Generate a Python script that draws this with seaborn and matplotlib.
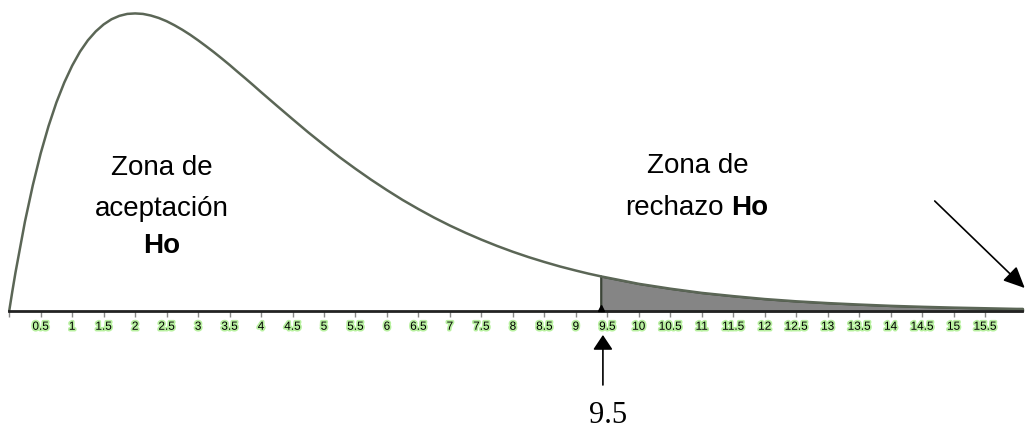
import matplotlib
matplotlib.use('Agg')
import matplotlib.pyplot as plt
import matplotlib.patheffects as pe
from matplotlib import font_manager
import seaborn as sns

# density curve (chi-square, 4 d.f.)
curve_x = [0, 0.05, 0.1, 0.25, 0.375, 0.5, 0.625, 0.75, 0.875, 1, 1.125, 1.25, 1.375, 1.5, 1.625,
           1.75, 1.875, 2, 2.125, 2.25, 2.375, 2.5, 2.625, 2.75, 2.875, 3, 3.125, 3.25, 3.375,
           3.5, 3.625, 3.75, 3.875, 4, 4.25, 4.5, 4.75, 5, 5.25, 5.5, 5.75, 6, 6.25, 6.5, 6.75,
           7, 7.25, 7.5, 7.75, 8, 8.25, 8.5, 8.75, 9, 9.2, 9.4, 10, 10.5, 11, 11.5, 12, 12.5,
           13, 13.5, 14, 14.5, 15, 15.5, 16, 16.1]
curve_y = [0, 0.0122, 0.0238, 0.0552, 0.0777, 0.0974, 0.1143, 0.1289, 0.1412, 0.1516, 0.1603,
           0.1673, 0.1728, 0.1771, 0.1803, 0.1824, 0.1836, 0.1839, 0.1836, 0.1826, 0.1811,
           0.1791, 0.1766, 0.1738, 0.1707, 0.1673, 0.1637, 0.1600, 0.1561, 0.1521, 0.1479,
           0.1438, 0.1396, 0.1353, 0.1269, 0.1186, 0.1104, 0.1026, 0.0950, 0.0879, 0.0811,
           0.0747, 0.0686, 0.0630, 0.0577, 0.0528, 0.0483, 0.0441, 0.0402, 0.0366, 0.0333,
           0.0303, 0.0275, 0.0250, 0.0231, 0.0214, 0.0168, 0.0138, 0.0112, 0.0092, 0.0074,
           0.0060, 0.0049, 0.0040, 0.0032, 0.0026, 0.0021, 0.0017, 0.0013, 0.0013]
critical = 9.4
critical_label = '9.5'
tick_pos = [i * 0.5 for i in range(0, 32)]
tick_labels = [''] + ['%g' % t for t in tick_pos[1:]]

sns.set_theme(style='white', rc={'text.color': 'black'})
plt.rcParams['font.family'] = ['Liberation Sans', 'DejaVu Sans']
names = {f.name for f in font_manager.fontManager.ttflist}
tick_font = 'Liberation Sans Narrow' if 'Liberation Sans Narrow' in names else 'Liberation Sans'

fig = plt.figure(figsize=(10.25, 4.34), dpi=100)
ax = fig.add_axes([0, 0, 1, 1])

# rejection zone
tail_x = [x for x in curve_x if x >= critical]
tail_y = [y for x, y in zip(curve_x, curve_y) if x >= critical]
ax.fill_between(tail_x, 0, tail_y, color='#858585', edgecolor='#3c4538', linewidth=1.2, zorder=2)
ax.plot([critical, critical], [0, tail_y[0]], color='#3c4538', linewidth=1.2, zorder=3)

sns.lineplot(x=curve_x, y=curve_y, ax=ax, color='#5b6656', linewidth=1.8, zorder=4)

ax.set_xlim(-0.146, 16.134)
ax.set_ylim(-0.076, 0.1922)

for s in ['top', 'left', 'right']:
    ax.spines[s].set_visible(False)
ax.spines['bottom'].set_position(('data', 0))
ax.spines['bottom'].set_bounds(0, 16.09)
ax.spines['bottom'].set_linewidth(2)
ax.spines['bottom'].set_color('#222222')
ax.spines['bottom'].set_zorder(5)
ax.set_yticks([])
ax.set_xticks(tick_pos)
ax.set_xticklabels(tick_labels, fontsize=8.5, family=tick_font)
ax.tick_params(axis='x', direction='out', length=4, width=1, color='#888888', pad=3,
               bottom=True, labelcolor='black')
for lab in ax.get_xticklabels():
    lab.set_path_effects([pe.withStroke(linewidth=2.5, foreground='#b8f0a0')])

ax.plot([critical], [0.0018], marker='^', ms=5, color='black', zorder=6)

# zone labels
ax.text(2.43, 0.0841, 'Zona de', ha='center', va='baseline', fontsize=20)
ax.text(2.43, 0.0587, 'aceptación', ha='center', va='baseline', fontsize=20)
ax.text(2.43, 0.0358, 'Ho', ha='center', va='baseline', fontsize=20, fontweight='bold')
ax.text(10.93, 0.0853, 'Zona de', ha='center', va='baseline', fontsize=20)
ax.text(11.34, 0.0593, 'rechazo', ha='right', va='baseline', fontsize=20)
ax.text(11.47, 0.0593, 'Ho', ha='left', va='baseline', fontsize=20, fontweight='bold')

# arrows
ax.annotate('', xy=(9.43, -0.0148), xytext=(9.43, -0.0457),
            arrowprops=dict(arrowstyle='-|>,head_length=0.9,head_width=0.6', mutation_scale=10,
                            color='black', linewidth=1.2, shrinkA=0, shrinkB=0))
ax.text(9.51, -0.0643, critical_label, ha='center', va='center', fontsize=22,
        family=['Liberation Serif', 'DejaVu Serif'])
ax.annotate('', xy=(16.13, 0.0142), xytext=(14.70, 0.068),
            arrowprops=dict(arrowstyle='-|>,head_length=1.3,head_width=0.6', mutation_scale=10,
                            color='black', linewidth=1.2, shrinkA=0, shrinkB=0))

fig.savefig('out.png', dpi=100)
